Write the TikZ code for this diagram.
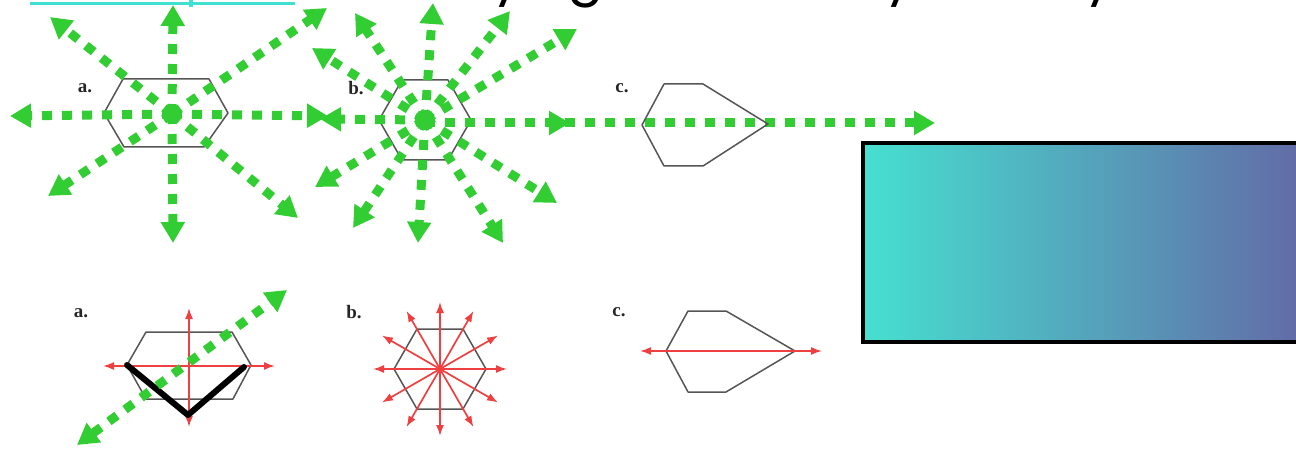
\documentclass[tikz,border=0pt]{standalone}
\usepackage{fontspec}
\newfontfamily\titlefont{Poppins}
\newfontfamily\lblfont{Liberation Serif}
\usetikzlibrary{arrows.meta}
\definecolor{grn}{RGB}{50,205,50}
\definecolor{cyn}{RGB}{64,224,208}
\definecolor{gleft}{RGB}{70,224,208}
\definecolor{gright}{RGB}{99,104,166}
\definecolor{redarr}{RGB}{238,64,64}
\definecolor{hexgray}{RGB}{85,85,85}
\tikzset{
  greenarrow/.style={draw=grn, line width=9pt, dash pattern=on 10pt off 10pt, -{Triangle[length=21pt,width=23pt]}},
  greendouble/.style={greenarrow, {Triangle[length=21pt,width=23pt]}-{Triangle[length=21pt,width=23pt]}},
  redarrow/.style={draw=redarr, line width=1.7pt, -{Latex[length=11pt,width=8pt]}},
  reddouble/.style={redarrow, {Latex[length=11pt,width=8pt]}-{Latex[length=11pt,width=8pt]}},
  hexline/.style={draw=hexgray, line width=1.5pt, line join=round},
  lbl/.style={font=\lblfont\bfseries\fontsize{19}{19}\selectfont, text=black!85, inner sep=0pt},
  desc/.style={font=\titlefont\fontsize{54}{54}\selectfont, anchor=base, inner sep=0pt},
}
\begin{document}
\begin{tikzpicture}[x=1pt,y=-1pt]
\useasboundingbox (0,0) rectangle (1296,449);
% cut-off title descenders
\node[desc] (t1) at (508,-6) {y};
\node[desc] (t2) at (586,-6) {g};
\node[desc] (t3) at (900,-6) {y};
\node[desc] (t4) at (1100,-6) {y};
% cyan line
\draw[cyn, line width=3pt] (30,4) -- (295,4);
\draw[cyn, line width=4pt] (191,0) -- (191,7);
% gradient rectangle
\path[left color=gleft, right color=gright, draw=black, line width=4pt] (863,143) rectangle (1312,342);

% ---- top a ----
\draw[hexline] (123,79) -- (209,79) -- (228,113) -- (204,147) -- (124,147) -- (104,113) -- cycle;
\node[lbl] (la1) at (85,88) {a.};
\coordinate (A1) at (172,114);
\foreach \p in {(173,5),(173,243),(10,116),(328,116),(50,17),(298,218),(327,8),(48,196)}
  \draw[greenarrow] (A1) -- \p;

% ---- top b ----
\coordinate (B1) at (425,120);
\draw[hexline] (402,80) -- (448,80) -- (471,120) -- (448,160) -- (402,160) -- (379,120) -- cycle;
\node[lbl] (lb1) at (356,88) {b.};
\foreach \p in {(433,3),(510,11),(577,29),(557,203),(503,243),(418,243),(353,228),(315,187),(320,119),(312,48),(355,13)}
  \draw[greenarrow] (B1) -- \p;
\coordinate (B1r) at (425,123);
\draw[greenarrow] (B1r) -- (570,123);
\draw[greenarrow] (B1r) -- (935,123);

% ---- top c ----
\draw[hexline] (664,84) -- (703,84) -- (768,124) -- (703,166) -- (664,166) -- (642,125) -- cycle;
\node[lbl] (lc1) at (622,88) {c.};

% ---- bottom a ----
\coordinate (A2) at (189,365);
\draw[hexline] (146,332) -- (232,332) -- (251,365) -- (233,399) -- (146,399) -- (127,365) -- cycle;
\node[lbl] (la2) at (81,313) {a.};
\draw[reddouble] (103,366) -- (275,366);
\draw[reddouble] (189,308) -- (189,427);
\draw[black, line width=6pt, line cap=round, line join=round] (127,365) -- (188,415) -- (244,367);
\draw[greendouble] (77,445) -- (287,290);

% ---- bottom b ----
\coordinate (B2) at (440,369);
\draw[hexline] (417,329) -- (463,329) -- (486,369) -- (463,409) -- (417,409) -- (394,369) -- cycle;
\node[lbl] (lb2) at (354,312) {b.};
\foreach \a in {0,30,...,330}
  \draw[redarrow] (B2) -- ++(\a:67);

% ---- bottom c ----
\draw[hexline] (688,311) -- (726,311) -- (795,351) -- (726,392) -- (688,392) -- (666,351) -- cycle;
\node[lbl] (lc2) at (619,312) {c.};
\draw[reddouble] (640,351) -- (822,351);
\end{tikzpicture}
\end{document}
